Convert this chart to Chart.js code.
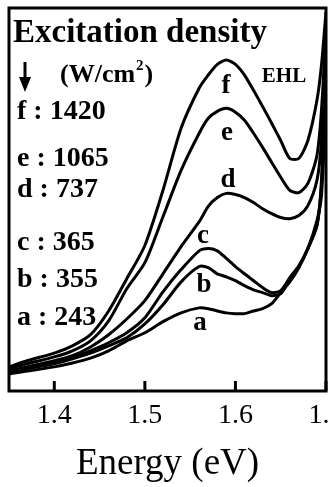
<!DOCTYPE html>
<html>
<head>
<meta charset="utf-8">
<script src="https://cdn.jsdelivr.net/npm/chart.js@4"></script>
<style>
  html, body { margin: 0; padding: 0; background: #fff; overflow: hidden; }
  #wrap { width: 360px; height: 487px; }
</style>
</head>
<body>
<div id="wrap"><canvas id="chart"></canvas></div>
<script>
// Energy grid (eV) shared by all spectra
const energy = [1.35, 1.37, 1.40, 1.42, 1.44, 1.46, 1.48, 1.50, 1.52, 1.54, 1.56, 1.57, 1.58,
  1.59, 1.60, 1.61, 1.62, 1.63, 1.64, 1.65, 1.66, 1.67, 1.68, 1.69, 1.695, 1.70];
const tickValues = [1.4, 1.5, 1.6, 1.7];

// PL intensity (arb. units)
const curveA = [4.5, 5.2, 6.3, 7.3, 8.6, 10.5, 13.1, 15.2, 18.1, 20.4, 21.7, 21.5, 20.9,
  20.4, 20.2, 20.2, 20.9, 21.5, 22.8, 25.7, 28.5, 32.2, 37.2, 44.5, 51.0, 75.9];
const curveB = [4.7, 5.8, 7.1, 8.4, 9.9, 11.8, 13.9, 17.5, 22.5, 28.5, 32.5, 32.2, 30.6,
  29.8, 28.8, 27.5, 26.4, 25.7, 24.9, 25.4, 29.1, 32.5, 37.2, 43.2, 53.7, 81.2];
const curveC = [5.0, 6.0, 7.3, 8.6, 10.5, 12.6, 15.2, 19.1, 25.9, 31.7, 36.6, 37.2, 36.6,
  34.6, 32.5, 30.6, 28.8, 27.0, 25.7, 26.2, 29.6, 32.7, 37.2, 43.2, 55.0, 83.8];
const curveD = [5.2, 6.3, 7.9, 9.2, 11.5, 14.7, 18.8, 23.6, 30.6, 37.7, 44.2, 48.2, 50.5,
  51.6, 51.3, 50.5, 49.2, 47.6, 46.3, 45.3, 45.0, 45.8, 48.4, 55.0, 65.4, 91.6];
const curveE = [5.8, 7.1, 8.9, 10.5, 13.1, 18.3, 26.7, 33.5, 45.5, 57.6, 67.3, 71.2, 73.0,
  73.8, 72.8, 70.7, 67.3, 63.6, 59.7, 55.8, 52.4, 51.8, 54.2, 61.5, 73.3, 94.2];
const curveF = [6.3, 7.9, 9.9, 11.8, 14.7, 20.9, 29.3, 38.0, 52.4, 68.6, 79.1, 82.5, 85.3,
  86.4, 85.3, 82.5, 78.5, 74.3, 69.9, 65.4, 60.7, 60.7, 65.4, 75.9, 85.1, 99.0];

const curveNames = ["a", "b", "c", "d", "e", "f"];
const densities = [243, 355, 365, 737, 1065, 1420];
const curves = [curveA, curveB, curveC, curveD, curveE, curveF];

const SERIF = "'Liberation Serif', 'Times New Roman', serif";

// frame, inward ticks and all the text inside the plot
const decor = {
  id: "decor",
  afterDraw(chart) {
    const { ctx, chartArea: a } = chart;
    const x = chart.scales.x;
    ctx.save();
    ctx.strokeStyle = "#000";
    ctx.fillStyle = "#000";
    ctx.lineWidth = 3;
    ctx.strokeRect(a.left, a.top, a.right - a.left, a.bottom - a.top);

    tickValues.forEach(v => {
      const px = x.getPixelForValue(v);
      ctx.beginPath();
      ctx.moveTo(px, a.bottom);
      ctx.lineTo(px, a.bottom - 10);
      ctx.stroke();
    });

    ctx.textAlign = "left";
    ctx.textBaseline = "alphabetic";
    ctx.font = "bold 33px " + SERIF;
    ctx.fillText("Excitation density", 13, 42);

    // arrow
    ctx.lineWidth = 3;
    ctx.beginPath();
    ctx.moveTo(25, 62);
    ctx.lineTo(25, 80);
    ctx.stroke();
    ctx.beginPath();
    ctx.moveTo(19, 77);
    ctx.lineTo(31, 77);
    ctx.lineTo(25, 92);
    ctx.closePath();
    ctx.fill();

    // (W/cm^2)
    ctx.font = "bold 26px " + SERIF;
    let tx = 60;
    ctx.fillText("(W/cm", tx, 82);
    tx += ctx.measureText("(W/cm").width;
    ctx.font = "bold 15px " + SERIF;
    ctx.fillText("2", tx + 1, 70);
    tx += ctx.measureText("2").width + 2;
    ctx.font = "bold 26px " + SERIF;
    ctx.fillText(")", tx, 82);

    // legend lines
    const legendY = [325, 287, 250, 197, 166, 119];
    ctx.font = "bold 28px " + SERIF;
    curveNames.forEach((n, i) => {
      ctx.fillText(n + " : " + densities[i], 17, legendY[i]);
    });

    // letters on the curves
    const tag = [[200, 330], [204, 292], [203, 243], [228, 187], [227, 140], [226, 93]];
    ctx.textAlign = "center";
    ctx.font = "bold 27px " + SERIF;
    curveNames.forEach((n, i) => ctx.fillText(n, tag[i][0], tag[i][1]));

    ctx.font = "bold 21px " + SERIF;
    ctx.fillText("EHL", 284, 82);
    ctx.restore();
  }
};

new Chart(document.getElementById("chart"), {
  type: "line",
  data: {
    labels: energy,
    datasets: curves.map((c, i) => ({
      label: curveNames[i],
      data: c.map((v, j) => ({ x: energy[j], y: v })),
      borderColor: "#000",
      borderWidth: 3,
      pointRadius: 0,
      tension: 0.25,
      fill: false
    }))
  },
  options: {
    responsive: true,
    maintainAspectRatio: false,
    animation: false,
    layout: { padding: { left: 9, top: 8, right: 34, bottom: 0 } },
    plugins: { legend: { display: false }, tooltip: { enabled: false } },
    scales: {
      x: {
        type: "linear",
        min: 1.35,
        max: 1.70,
        afterBuildTicks: s => { s.ticks = tickValues.map(v => ({ value: v })); },
        grid: { display: false, drawTicks: false },
        border: { display: false },
        ticks: {
          padding: 8,
          color: "#000",
          font: { family: SERIF, size: 28 },
          maxRotation: 0,
          callback: v => v.toFixed(1)
        },
        title: {
          display: true,
          text: "Energy (eV)",
          color: "#000",
          font: { family: SERIF, size: 37 },
          padding: { top: 1, bottom: 1 }
        }
      },
      y: { display: false, min: 0, max: 100 }
    }
  },
  plugins: [decor]
});
</script>
</body>
</html>
